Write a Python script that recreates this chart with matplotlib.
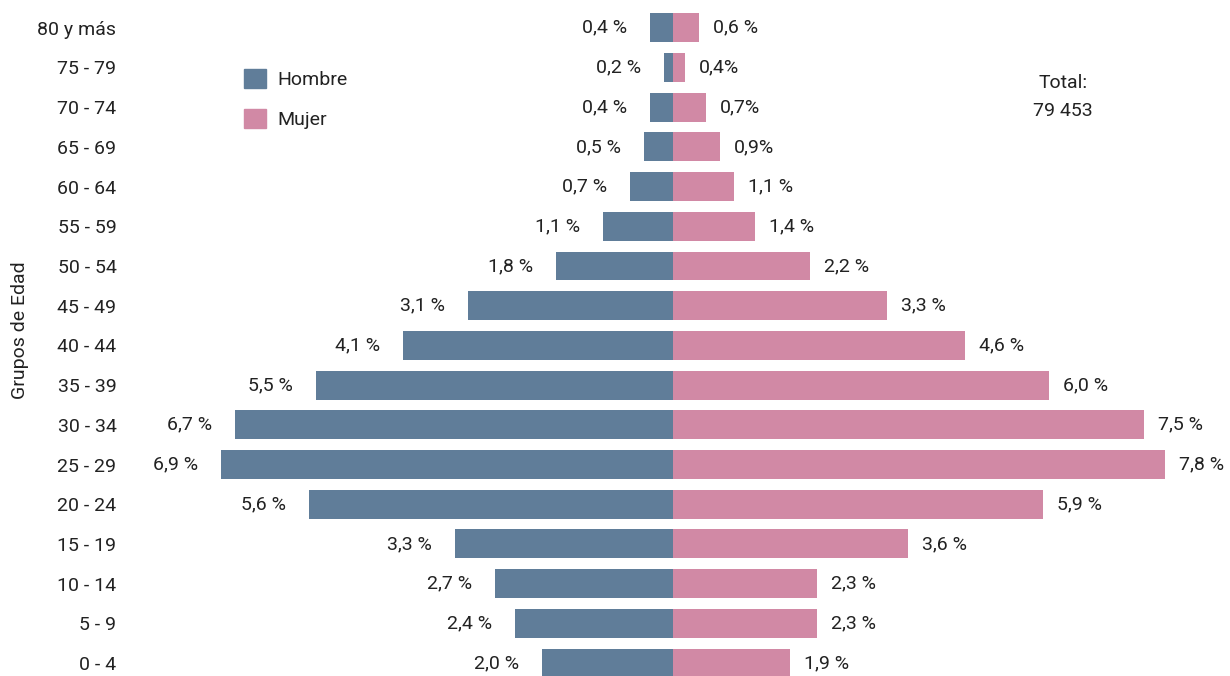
import matplotlib
matplotlib.use("Agg")
import matplotlib.pyplot as plt
from matplotlib.patches import Patch
from matplotlib import font_manager

groups = ["0 - 4", "5 - 9", "10 - 14", "15 - 19", "20 - 24", "25 - 29", "30 - 34",
          "35 - 39", "40 - 44", "45 - 49", "50 - 54", "55 - 59", "60 - 64",
          "65 - 69", "70 - 74", "75 - 79", "80 y más"]
# bar lengths (percent)
hombre = [2.05, 2.47, 2.78, 3.41, 5.69, 7.06, 6.84, 5.58, 4.22, 3.20, 1.83, 1.09, 0.67,
          0.45, 0.36, 0.14, 0.36]
mujer = [1.83, 2.25, 2.25, 3.67, 5.78, 7.69, 7.36, 5.88, 4.56, 3.34, 2.14, 1.28, 0.95,
         0.73, 0.52, 0.19, 0.41]
hombre_labels = ["2,0 %", "2,4 %", "2,7 %", "3,3 %", "5,6 %", "6,9 %", "6,7 %", "5,5 %",
                 "4,1 %", "3,1 %", "1,8 %", "1,1 %", "0,7 %", "0,5 %", "0,4 %", "0,2 %", "0,4 %"]
mujer_labels = ["1,9 %", "2,3 %", "2,3 %", "3,6 %", "5,9 %", "7,8 %", "7,5 %", "6,0 %",
                "4,6 %", "3,3 %", "2,2 %", "1,4 %", "1,1 %", "0,9%", "0,7%", "0,4%", "0,6 %"]
total_text = "Total:\n79 453"

avail = {f.name for f in font_manager.fontManager.ttflist}
fam = "Liberation Sans Narrow" if "Liberation Sans Narrow" in avail else "Roboto"
plt.rcParams["font.family"] = [fam, "DejaVu Sans"]

c_h = "#607D99"
c_m = "#D189A5"
tc = "#222222"
fs = 14

fig = plt.figure(figsize=(12.3, 6.76), dpi=100)
W, H = 1230, 676
ax_left, ax_right = 140, 1230
ax = fig.add_axes([ax_left / W, 0, (ax_right - ax_left) / W, 1])
scale = 64.0
cx = 673
ax.set_xlim(-(cx - ax_left) / scale, (ax_right - cx) / scale)
sp = 39.7
ax.set_ylim(-(H - 663) / sp, 663 / sp)

y = list(range(len(groups)))
ax.barh(y, [-v for v in hombre], height=0.73, color=c_h)
ax.barh(y, mujer, height=0.73, color=c_m)

for yi, v, lab in zip(y, hombre, hombre_labels):
    ax.text(-v - 23 / scale, yi, lab, ha="right", va="center", fontsize=fs, color=tc)
for yi, v, lab in zip(y, mujer, mujer_labels):
    ax.text(v + 14 / scale, yi, lab, ha="left", va="center", fontsize=fs, color=tc)

ax.set_yticks(y)
ax.set_yticklabels(groups, fontsize=fs, color=tc)
ax.tick_params(axis="y", length=0, pad=17)
ax.set_xticks([])
for s in ax.spines.values():
    s.set_visible(False)

fig.text(20 / W, 1 - 330 / H, "Grupos de Edad", rotation=90, ha="center", va="center",
         fontsize=fs, color=tc)
fig.text(1063 / W, 1 - 97 / H, total_text, ha="center", va="center", fontsize=fs,
         color=tc, linespacing=1.75)

handles = [Patch(color=c_h, label="Hombre"), Patch(color=c_m, label="Mujer")]
fig.legend(handles=handles, loc="upper left", bbox_to_anchor=(227 / W, 1 - 52 / H),
           frameon=False, fontsize=fs, handlelength=1.1, handleheight=1.1,
           labelspacing=1.0, handletextpad=0.6, labelcolor=tc)

fig.savefig("out.png", dpi=100, facecolor="white")
